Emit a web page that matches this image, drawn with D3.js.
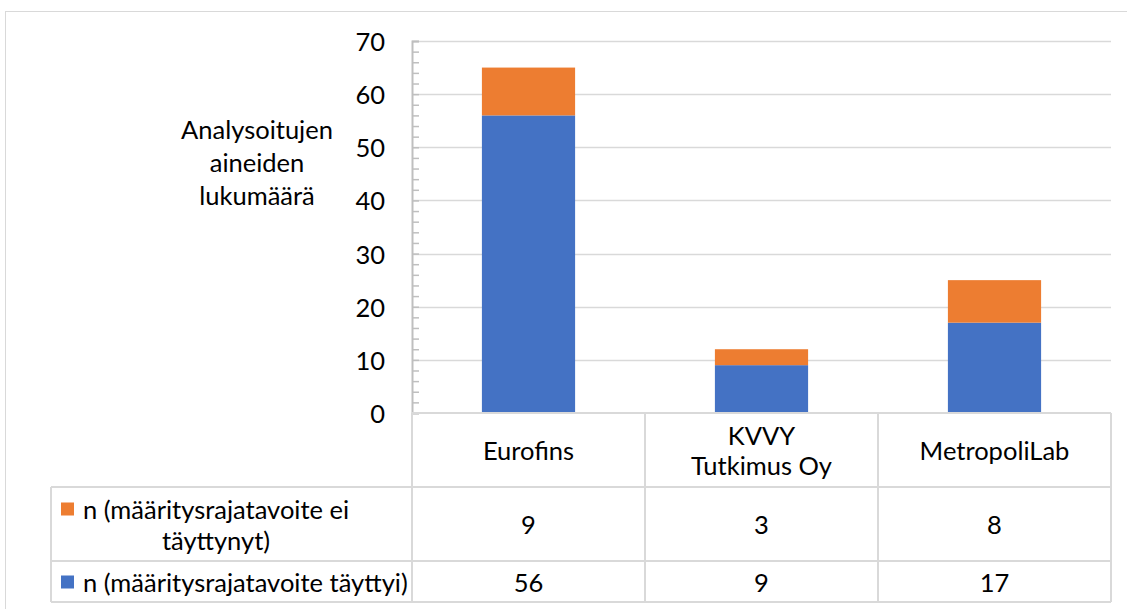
<!DOCTYPE html>
<html>
<head>
<meta charset="utf-8">
<script src="https://cdn.jsdelivr.net/npm/d3@7"></script>
<style>
body{margin:0;background:#fff;}
text{font-family:Lato,"Open Sans",sans-serif;fill:#000;}
</style>
</head>
<body>
<div id="chart"></div>
<script>
var w=1127
var h=609

//Data
var categories=[["Eurofins"],["KVVY","Tutkimus Oy"],["MetropoliLab"]];
var seriesNames=[["n (määritysrajatavoite ei","täyttynyt)"],["n (määritysrajatavoite täyttyi)"]];
var notMet=[9,3,8];
var met=[56,9,17];
var yTicks=[0,10,20,30,40,50,60,70];
var colors=["#ED7D31","#4472C4"];

var fontSize=25.5;
var grid="#D9D9D9";

var svg=d3.select("#chart")
          .append("svg")
          .attr("width",w)
          .attr("height",h);

//Chart border
svg.append("rect")
   .attr("x",5.5)
   .attr("y",11.5)
   .attr("width",w+10)
   .attr("height",h+10)
   .attr("fill","none")
   .attr("stroke",grid);

var plotLeft=412, plotRight=1111, plotTop=41, plotBottom=413;
var tableLeft=51;
var rowY=[413,487,561,602];

var xScale=d3.scaleBand()
             .domain(d3.range(categories.length))
             .range([plotLeft,plotRight])
             .paddingInner(0.6)
             .paddingOuter(0.3);

var yScale=d3.scaleLinear()
             .domain([0,70])
             .range([plotBottom,plotTop]);

//Gridlines
svg.append("g")
   .selectAll("line")
   .data(yTicks.slice(1))
   .enter()
   .append("line")
   .attr("x1",plotLeft)
   .attr("x2",plotRight)
   .attr("y1",function(d) {return Math.round(yScale(d))+0.5;})
   .attr("y2",function(d) {return Math.round(yScale(d))+0.5;})
   .attr("stroke",grid)
   .attr("stroke-width",1.5);

//Stack data
var rows=categories.map(function(c,i) {return {i:i,met:met[i],notMet:notMet[i]};});
var stack=d3.stack().keys(["met","notMet"])(rows);

svg.append("g")
   .selectAll("g")
   .data(stack)
   .enter()
   .append("g")
   .attr("fill",function(d,k) {return k==0 ? colors[1] : colors[0];})
   .selectAll("rect")
   .data(function(d) {return d;})
   .enter()
   .append("rect")
   .attr("x",function(d) {return xScale(d.data.i);})
   .attr("width",xScale.bandwidth())
   .attr("y",function(d) {return yScale(d[1]);})
   .attr("height",function(d) {return yScale(d[0])-yScale(d[1]);});

//Y axis with minor ticks inside
var yAxis=d3.axisRight(yScale)
            .tickValues(d3.range(0,71,2))
            .tickSize(7)
            .tickFormat("");
var ya=svg.append("g")
          .attr("transform","translate("+plotLeft+",0)")
          .call(yAxis);
ya.selectAll("line").attr("stroke","#BFBFBF").attr("stroke-width",1.5);
ya.select(".domain").attr("stroke","#BFBFBF").attr("stroke-width",2);

//Y tick labels
svg.append("g")
   .selectAll("text")
   .data(yTicks)
   .enter()
   .append("text")
   .attr("x",385)
   .attr("y",function(d) {return yScale(d);})
   .attr("text-anchor","end")
   .attr("dominant-baseline","central")
   .style("font-size",fontSize+"px")
   .text(function(d) {return d;});

//Y axis title
var titleLines=["Analysoitujen","aineiden","lukumäärä"];
svg.append("g")
   .selectAll("text")
   .data(titleLines)
   .enter()
   .append("text")
   .attr("x",257)
   .attr("y",function(d,i) {return 129+i*33;})
   .attr("text-anchor","middle")
   .attr("dominant-baseline","central")
   .style("font-size",fontSize+"px")
   .text(function(d) {return d;});

//Data table lines
var table=svg.append("g").attr("stroke",grid).attr("stroke-width",2);
[rowY[1],rowY[2],rowY[3]].forEach(function(y) {
    table.append("line").attr("x1",tableLeft).attr("x2",plotRight).attr("y1",y).attr("y2",y);
});
table.append("line").attr("x1",plotLeft).attr("x2",plotRight).attr("y1",plotBottom).attr("y2",plotBottom);
table.append("line").attr("x1",tableLeft).attr("x2",tableLeft).attr("y1",rowY[1]).attr("y2",rowY[3]);
var colEdges=[plotLeft].concat(d3.range(categories.length).map(function(i) {return xScale(i)+xScale.bandwidth()+xScale.step()*0.3;}));
colEdges.forEach(function(x) {
    table.append("line").attr("x1",x).attr("x2",x).attr("y1",plotBottom).attr("y2",rowY[3]);
});

//Category labels
var catG=svg.append("g");
categories.forEach(function(lines,i) {
    var cx=xScale(i)+xScale.bandwidth()/2;
    var cy=(rowY[0]+rowY[1])/2;
    lines.forEach(function(t,j) {
        catG.append("text")
            .attr("x",cx)
            .attr("y",cy+(j-(lines.length-1)/2)*30)
            .attr("text-anchor","middle")
            .attr("dominant-baseline","central")
            .style("font-size",fontSize+"px")
            .text(t);
    });
});

//Series rows: legend keys and values
var seriesValues=[notMet,met];
seriesValues.forEach(function(vals,r) {
    var cy=(rowY[r+1]+rowY[r+2])/2;
    var names=seriesNames[r];
    var firstY=cy-(names.length-1)/2*31;
    svg.append("rect")
       .attr("x",61)
       .attr("y",firstY-6)
       .attr("width",13)
       .attr("height",13)
       .attr("fill",colors[r]);
    names.forEach(function(t,j) {
        svg.append("text")
           .attr("x",j==0 ? 83 : 216)
           .attr("y",firstY+j*31)
           .attr("text-anchor",j==0 ? "start" : "middle")
           .attr("dominant-baseline","central")
           .style("font-size",fontSize+"px")
           .text(t);
    });
    vals.forEach(function(v,i) {
        svg.append("text")
           .attr("x",xScale(i)+xScale.bandwidth()/2)
           .attr("y",cy)
           .attr("text-anchor","middle")
           .attr("dominant-baseline","central")
           .style("font-size",fontSize+"px")
           .text(v);
    });
});
</script>
</body>
</html>
